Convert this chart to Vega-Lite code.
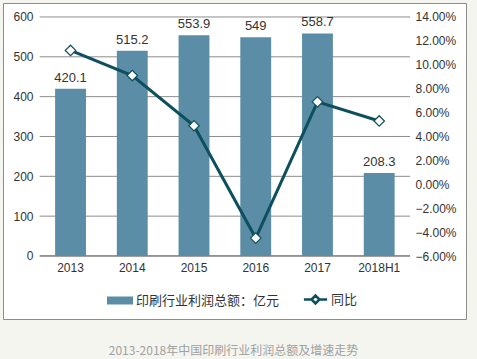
{
  "$schema": "https://vega.github.io/schema/vega-lite/v6.json",
  "autosize": "none",
  "width": 463,
  "height": 316,
  "padding": {"left": 3, "top": 3, "right": 11, "bottom": 40},
  "background": "#f5f5f0",
  "title": {
    "text": "2013-2018年中国印刷行业利润总额及增速走势",
    "orient": "bottom",
    "anchor": "middle",
    "dx": -1,
    "offset": 27,
    "font": "Noto Sans CJK SC",
    "fontSize": 12,
    "fontWeight": "normal",
    "color": "#a0a0a0"
  },
  "config": {
    "view": {"fill": "white", "stroke": "#8c8c8c", "strokeWidth": 1},
    "font": "Liberation Sans",
    "axis": {"labelFont": "Liberation Sans", "labelFontSize": 12, "labelColor": "#333333", "title": null, "labelOverlap": false, "grid": false},
    "axisQuantitative": {"labelOverlap": false},
    "legend": {"layout": {"bottom": {"anchor": "middle", "direction": "horizontal", "center": true, "margin": 26}}}
  },
  "data": {
    "values": [
      {"year": "2013", "profit": 420.1, "growth": 0.112},
      {"year": "2014", "profit": 515.2, "growth": 0.091},
      {"year": "2015", "profit": 553.9, "growth": 0.049},
      {"year": "2016", "profit": 549, "growth": -0.045},
      {"year": "2017", "profit": 558.7, "growth": 0.069},
      {"year": "2018H1", "profit": 208.3, "growth": 0.053}
    ]
  },
  "layer": [
    {
      "layer": [
        {
          "data": {
            "values": [
              {"g": 0, "first": "2013", "last": "2018H1"},
              {"g": 100, "first": "2013", "last": "2018H1"},
              {"g": 200, "first": "2013", "last": "2018H1"},
              {"g": 300, "first": "2013", "last": "2018H1"},
              {"g": 400, "first": "2013", "last": "2018H1"},
              {"g": 500, "first": "2013", "last": "2018H1"},
              {"g": 600, "first": "2013", "last": "2018H1"}
            ]
          },
          "mark": {"type": "rule", "strokeWidth": 1},
          "encoding": {
            "x": {
              "field": "first",
              "type": "nominal",
              "bandPosition": -0.5,
              "axis": {"labelAngle": 0, "ticks": false, "domain": false, "labelPadding": 6, "offset": -63, "bandPosition": 0.5}
            },
            "x2": {"field": "last", "bandPosition": 1.5},
            "y": {
              "field": "g",
              "type": "quantitative",
              "axis": {"values": [0, 100, 200, 300, 400, 500, 600], "orient": "left", "ticks": false, "domain": false, "labelPadding": 9, "offset": -39, "labelOverlap": false}
            },
            "stroke": {"condition": {"test": "datum.g === 0", "value": "#333333"}, "value": "#8c8c8c"}
          }
        },
        {
          "mark": {"type": "bar"},
          "encoding": {
            "x": {
              "field": "year",
              "type": "nominal",
              "sort": null,
              "scale": {"paddingInner": 0.5, "paddingOuter": 1.0556, "align": 0.422},
              "axis": {"labelAngle": 0, "ticks": false, "domain": false, "labelPadding": 6, "offset": -63, "bandPosition": 0.5}
            },
            "y": {
              "field": "profit",
              "type": "quantitative",
              "scale": {"domain": [-158.2, 635.1], "nice": false, "zero": false},
              "axis": {"values": [0, 100, 200, 300, 400, 500, 600], "orient": "left", "ticks": false, "domain": false, "labelPadding": 9, "offset": -39, "labelOverlap": false}
            },
            "color": {
              "datum": "印刷行业利润总额：亿元",
              "scale": {"range": ["#5b8ea6"]},
              "legend": {"title": null, "orient": "bottom", "symbolType": "M-1.625,-0.5H1.625V0.5H-1.625Z", "symbolSize": 256, "labelFont": "Noto Sans CJK SC", "labelFontSize": 13, "labelColor": "#333333", "offset": -29, "labelOffset": 7}
            }
          }
        },
        {
          "mark": {"type": "text", "dy": -11, "fontSize": 13, "color": "#333333", "font": "Liberation Sans"},
          "encoding": {
            "x": {"field": "year", "type": "nominal", "sort": null},
            "y": {"field": "profit", "type": "quantitative"},
            "text": {"field": "profit", "type": "quantitative"}
          }
        }
      ]
    },
    {
      "layer": [
        {
          "mark": {"type": "line", "strokeWidth": 3},
          "encoding": {
            "x": {"field": "year", "type": "nominal", "sort": null},
            "y": {
              "field": "growth",
              "type": "quantitative",
              "scale": {"domain": [-0.1127, 0.1517], "nice": false, "zero": false},
              "axis": {"orient": "right", "format": ".2%", "values": [-0.06, -0.04, -0.02, 0, 0.02, 0.04, 0.06, 0.08, 0.1, 0.12, 0.14], "ticks": false, "domain": false, "labelPadding": 8, "offset": -59, "labelOverlap": false, "labelFlush": false, "labelSeparation": 0}
            },
            "stroke": {
              "datum": "同比",
              "scale": {"range": ["#0e4f5e"]},
              "legend": {"title": null, "orient": "bottom", "symbolType": "M-1.45,0H-0.5M0.5,0H1.45M-0.5,0L0,-0.5L0.5,0L0,0.5Z", "symbolSize": 256, "symbolStrokeWidth": 2.5, "symbolFillColor": "white", "labelFont": "Noto Sans CJK SC", "labelFontSize": 13, "labelColor": "#333333", "offset": -29, "labelOffset": 6}
            }
          }
        },
        {
          "mark": {"type": "point", "shape": "diamond", "filled": true, "fill": "white", "stroke": "#0e4f5e", "strokeWidth": 1.2, "size": 110, "opacity": 1},
          "encoding": {
            "x": {"field": "year", "type": "nominal", "sort": null},
            "y": {
              "field": "growth",
              "type": "quantitative",
              "axis": {"orient": "right", "format": ".2%", "values": [-0.06, -0.04, -0.02, 0, 0.02, 0.04, 0.06, 0.08, 0.1, 0.12, 0.14], "ticks": false, "domain": false, "labelPadding": 8, "offset": -59, "labelOverlap": false, "labelFlush": false, "labelSeparation": 0}
            }
          }
        }
      ]
    }
  ],
  "resolve": {"scale": {"y": "independent"}}
}
